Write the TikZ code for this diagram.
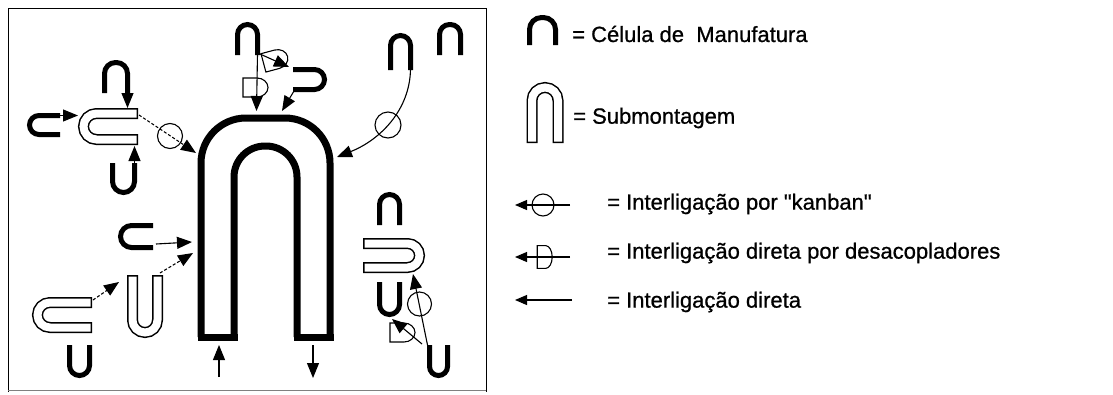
\documentclass[tikz,border=0pt]{standalone}
\usepackage{fontspec}
\setmainfont{Liberation Sans}
\newfontfamily\lblfont{Liberation Sans}[FakeBold=0.8]
\usetikzlibrary{arrows.meta}
\newcommand\subshape[2][]{%
  \draw[line width=11pt,line cap=butt,#1] #2;
  \draw[white,line width=8pt,line cap=butt,shorten <=1.5pt,shorten >=1.5pt,#1] #2;}
\tikzset{
  cell/.style={line width=5pt,line cap=butt},
  bigl/.style={line width=7pt,line cap=butt},
  thinl/.style={line width=1.1pt},
  arr/.style={thinl,-{Triangle[length=15pt,width=12pt]}},
  larr/.style={thinl,-{Triangle[length=12pt,width=10pt]}},
  kring/.style={thinl},
  lbl/.style={anchor=west,inner sep=0pt,font=\lblfont\fontsize{22}{26}\selectfont},
  dcp/.pic={\draw[thinl] (1,-9.5) -- (-13,-9.5) -- (-13,9.5) -- (1,9.5)
      arc[start angle=90,end angle=-90,x radius=11,y radius=9.5];}
}
\begin{document}
\begin{tikzpicture}[x=1pt,y=-1pt]
\useasboundingbox (0,0) rectangle (1113,394);
% frame
\draw[line width=1pt] (8,392) -- (8,8) -- (486,8) -- (486,392);
\draw[line width=0.6pt,gray] (8,390) -- (486,390);

% ---- main submontagem ----
\draw[bigl,rounded corners=45pt] (201,337) -- (201,118) -- (330,118) -- (330,337);
\draw[bigl,rounded corners=31pt] (234,337) -- (234,146) -- (297,146) -- (297,337);
\draw[bigl,line cap=rect] (201,337) -- (234,337);
\draw[bigl,line cap=rect] (297,337) -- (330,337);
\coordinate (inL) at (219,345);
\coordinate (inLs) at (219,377);
\coordinate (outR) at (313,345);
\coordinate (outRe) at (313,378);
\draw[arr] (inLs) -- (inL);
\draw[arr] (outR) -- (outRe);

% ---- left upper cluster ----
\subshape[rounded corners=13pt]{(138,113.5) -- (83.5,113.5) -- (83.5,139.5) -- (138,139.5)}
\draw[cell,rounded corners=11pt] (104.5,93) -- (104.5,62.5) -- (127.5,62.5) -- (127.5,93);
\draw[arr] (127.5,91) -- (127.5,108);
\draw[cell,rounded corners=9.5pt] (60,115.5) -- (29.5,115.5) -- (29.5,134.5) -- (60,134.5);
\draw[arr] (59,115.5) -- (78,115.5);
\draw[cell,rounded corners=11pt] (112.5,163) -- (112.5,192.5) -- (134.5,192.5) -- (134.5,163);
\draw[arr] (134.5,165) -- (134.5,146);
\coordinate (k1s) at (139,115);
\coordinate (k1e) at (196,153);
\draw[arr,densely dashed] (k1s) -- (k1e);
\draw[kring] (170,136) circle[radius=12.5];

% ---- top middle cluster ----
\draw[cell,rounded corners=10pt] (237.5,55) -- (237.5,24.5) -- (257.5,24.5) -- (257.5,55);
\draw[arr] (257.5,54) -- (256.5,111);
\pic at (256,87.5) {dcp};
\draw[cell,rounded corners=10pt] (293,69.5) -- (324.5,69.5) -- (324.5,89.5) -- (293,89.5);
\draw[arr] (260,54) -- (289,67);
\pic[rotate=15] at (276,59.5) {dcp};
\draw[arr] (294,91) -- (282,111);

% ---- top right cluster ----
\draw[cell,rounded corners=10pt] (390.5,70) -- (390.5,35.5) -- (410.5,35.5) -- (410.5,70);
\draw[cell,rounded corners=10pt] (439.5,55) -- (439.5,24.5) -- (460.5,24.5) -- (460.5,55);
\draw[arr] (410.5,69) .. controls (410,110) and (380,140) .. (337,157);
\draw[kring] (388,125) circle[radius=13];

% ---- lower left cluster ----
\draw[cell,rounded corners=11pt] (153,225.5) -- (120.5,225.5) -- (120.5,247.5) -- (153,247.5);
\draw[arr] (156,244) -- (192,242);
\subshape[rounded corners=12.5pt]{(132.5,275) -- (132.5,332.5) -- (157.5,332.5) -- (157.5,275)}
\draw[arr,densely dashed] (160,273) -- (193,253);
\subshape[rounded corners=12.5pt]{(92,302.5) -- (37.5,302.5) -- (37.5,327.5) -- (92,327.5)}
\draw[arr,densely dashed] (93,300) -- (119,282);
\draw[cell,rounded corners=10pt] (69.5,345) -- (69.5,375.5) -- (89.5,375.5) -- (89.5,345);

% ---- lower right cluster ----
\draw[cell,rounded corners=10pt] (379.5,225) -- (379.5,194.5) -- (399.5,194.5) -- (399.5,225);
\subshape[rounded corners=12pt]{(363,243.5) -- (419.5,243.5) -- (419.5,267.5) -- (363,267.5)}
\draw[cell,rounded corners=10pt] (379.5,282) -- (379.5,314.5) -- (399.5,314.5) -- (399.5,282);
\draw[cell,rounded corners=9pt] (429.5,345) -- (429.5,375.5) -- (447.5,375.5) -- (447.5,345);
\draw[arr] (427.5,345) -- (413,274);
\draw[kring] (419.5,304) circle[radius=12];
\draw[arr] (422,344) -- (392,319);
\pic at (403,332.5) {dcp};

% ---- legend ----
\draw[cell,rounded corners=12pt] (529.5,45) -- (529.5,17.5) -- (555.5,17.5) -- (555.5,45);
\node[lbl] (t1) at (572,34) {= Célula de\ \ Manufatura};
\subshape[rounded corners=13pt]{(532,143) -- (532,87.5) -- (558,87.5) -- (558,143)}
\node[lbl] (t2) at (573,118) {= Submontagem};
\draw[larr] (570,205) -- (515,205);
\draw[kring] (543,205) circle[radius=11];
\node[lbl] (t3) at (607,204) {= Interligação por \textquotedbl kanban\textquotedbl};
\draw[larr] (570,257) -- (515,257);
\pic[xscale=0.6,yscale=1.2] at (545,257) {dcp};
\node[lbl] (t4) at (607,253) {= Interligação direta por desacopladores};
\draw[larr] (572,300) -- (515,300);
\node[lbl] (t5) at (607,302) {= Interligação direta};
\end{tikzpicture}
\end{document}
